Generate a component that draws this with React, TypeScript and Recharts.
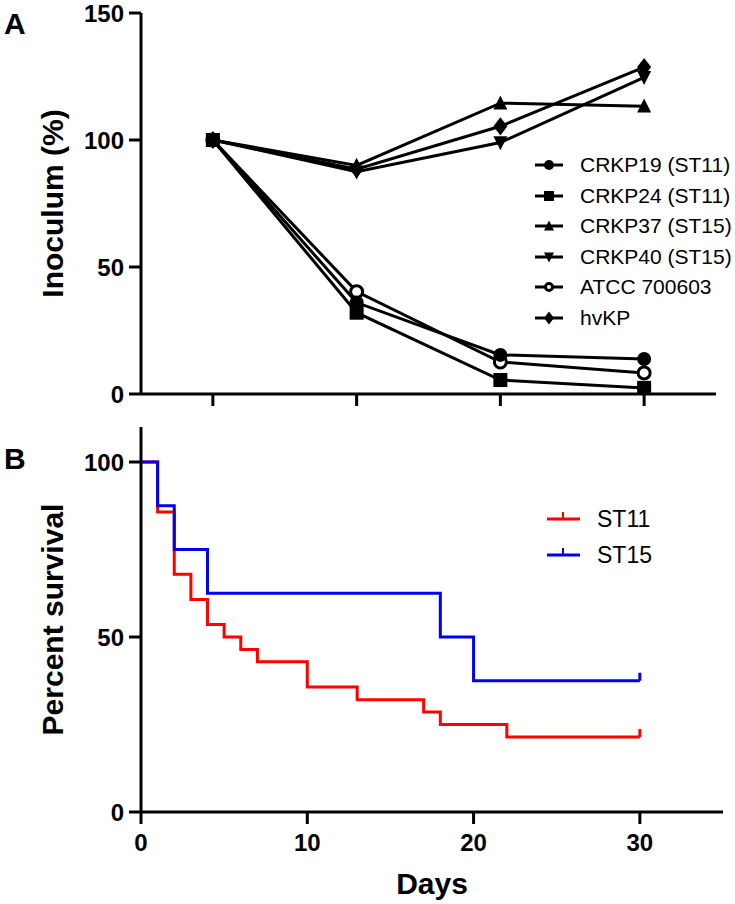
import { LineChart, Line, XAxis, YAxis, Legend } from 'recharts';

const FONT = "Arial, 'Liberation Sans', sans-serif";

// Panel A: inoculum (%) at four sampling points
const timepoints = [1, 2, 3, 4];
const crkp19 = [100, 36, 15.4, 13.8];
const crkp24 = [100, 32, 5.5, 2.4];
const crkp37 = [100, 90, 114.5, 113.3];
const crkp40 = [100, 87.5, 99, 124.7];
const atcc = [100, 40.3, 12.6, 8.3];
const hvkp = [100, 88.5, 105.4, 128.7];
const inoculumTicks = [0, 50, 100, 150];

// Panel B: Kaplan-Meier survival
const st11Days = [0, 1, 2, 3, 4, 5, 6, 7, 10, 13, 17, 18, 22, 30];
const st11Survival = [100, 85.7, 67.9, 60.7, 53.6, 50, 46.4, 42.9, 35.7, 32.1, 28.6, 25, 21.4, 21.4];
const st15Days = [0, 1, 2, 4, 18, 20, 30];
const st15Survival = [100, 87.5, 75, 62.5, 50, 37.5, 37.5];
const dayTicks = [0, 10, 20, 30];
const survivalTicks = [0, 50, 100];

const strains = [
  { key: 'crkp19', name: 'CRKP19 (ST11)', values: crkp19, shape: 'circle' },
  { key: 'crkp24', name: 'CRKP24 (ST11)', values: crkp24, shape: 'square' },
  { key: 'crkp37', name: 'CRKP37 (ST15)', values: crkp37, shape: 'triangle' },
  { key: 'crkp40', name: 'CRKP40 (ST15)', values: crkp40, shape: 'triangleDown' },
  { key: 'atcc', name: 'ATCC 700603', values: atcc, shape: 'open' },
  { key: 'hvkp', name: 'hvKP', values: hvkp, shape: 'diamond' },
];

const inoculumData = timepoints.map((t, i) => {
  const row: Record<string, number> = { t };
  strains.forEach((s) => (row[s.key] = s.values[i]));
  return row;
});

const st11Data = st11Days.map((d, i) => ({ day: d, surv: st11Survival[i] }));
const st15Data = st15Days.map((d, i) => ({ day: d, surv: st15Survival[i] }));

const groups = [
  { name: 'ST11', color: '#ff0000', data: st11Data },
  { name: 'ST15', color: '#0000f0', data: st15Data },
];

function Marker({ shape, cx, cy, s }: { shape: string; cx: number; cy: number; s: number }) {
  const h = s / 2;
  switch (shape) {
    case 'circle':
      return <circle cx={cx} cy={cy} r={h} fill="#000" />;
    case 'square':
      return <rect x={cx - h} y={cy - h} width={s} height={s} fill="#000" />;
    case 'triangle':
      return <polygon points={`${cx},${cy - s * 0.55} ${cx - h},${cy + s * 0.45} ${cx + h},${cy + s * 0.45}`} fill="#000" />;
    case 'triangleDown':
      return <polygon points={`${cx},${cy + s * 0.55} ${cx - h},${cy - s * 0.45} ${cx + h},${cy - s * 0.45}`} fill="#000" />;
    case 'open':
      return <circle cx={cx} cy={cy} r={h - 1.5} fill="#fff" stroke="#000" strokeWidth={3} />;
    case 'diamond':
      return <polygon points={`${cx},${cy - s * 0.65} ${cx + h},${cy} ${cx},${cy + s * 0.65} ${cx - h},${cy}`} fill="#000" />;
    default:
      return null;
  }
}

const EmptyTick = () => <g />;

const tickStyle = { fontSize: 24, fontWeight: 700, fill: '#000', fontFamily: FONT };
const titleStyle = { fontSize: 30, fontWeight: 700, fill: '#000', fontFamily: FONT, textAnchor: 'middle' as const };
const axisStroke = { stroke: '#000', strokeWidth: 3 };

const strainLegend = () => (
  <div style={{ fontFamily: FONT, fontSize: 21, color: '#000' }}>
    {strains.map((s) => (
      <div key={s.key} style={{ display: 'flex', alignItems: 'center', height: 30.5 }}>
        <svg width={50} height={30}>
          <line x1={5} x2={33} y1={15} y2={15} stroke="#000" strokeWidth={3} />
          <Marker shape={s.shape} cx={19} cy={15} s={10} />
        </svg>
        <span style={{ whiteSpace: 'nowrap' }}>{s.name}</span>
      </div>
    ))}
  </div>
);

const groupLegend = () => (
  <div style={{ fontFamily: FONT, fontSize: 23, color: '#000' }}>
    {groups.map((g) => (
      <div key={g.name} style={{ display: 'flex', alignItems: 'center', height: 36 }}>
        <svg width={57} height={36}>
          <line x1={7} x2={40} y1={18} y2={18} stroke={g.color} strokeWidth={3} />
          <line x1={23} x2={23} y1={18} y2={11} stroke={g.color} strokeWidth={2} />
        </svg>
        <span>{g.name}</span>
      </div>
    ))}
  </div>
);

// later series sit underneath: CRKP19 is drawn last, as in the figure
const drawOrder = [...strains].reverse();

export default function App() {
  return (
    <div style={{ position: 'absolute', left: 0, top: 0, width: 735, height: 904, background: '#fff', fontFamily: FONT }}>
      <div style={{ position: 'absolute', left: 0, top: 0 }}>
        <LineChart width={735} height={420} data={inoculumData} margin={{ top: 13, right: 19, bottom: 0, left: 0 }}>
          <XAxis
            dataKey="t"
            type="number"
            domain={[0.5, 4.5]}
            ticks={timepoints}
            tick={EmptyTick}
            tickSize={12}
            height={26}
            axisLine={axisStroke}
            tickLine={axisStroke}
          />
          <YAxis
            type="number"
            domain={[0, 150]}
            ticks={inoculumTicks}
            width={141}
            tickSize={12}
            tickMargin={5}
            tick={tickStyle}
            axisLine={axisStroke}
            tickLine={axisStroke}
            label={{ value: 'Inoculum (%)', angle: -90, position: 'insideLeft', offset: 52, style: titleStyle }}
          />
          {drawOrder.map((s) => (
            <Line
              key={s.key}
              dataKey={s.key}
              name={s.name}
              type="linear"
              stroke="#000"
              strokeWidth={3}
              isAnimationActive={false}
              activeDot={false}
              dot={(p: any) => (
                <Marker key={`${s.key}-${p.index}`} shape={s.shape} cx={p.cx} cy={p.cy} s={s.shape === 'open' ? 15 : 14} />
              )}
            />
          ))}
          <Legend
            layout="vertical"
            align="center"
            verticalAlign="middle"
            content={strainLegend}
            wrapperStyle={{ position: 'absolute', left: 530, top: 150, width: 205 }}
          />
        </LineChart>
      </div>

      <div style={{ position: 'absolute', left: 0, top: 420 }}>
        <LineChart width={735} height={484} margin={{ top: 7, right: 12, bottom: 0, left: 0 }}>
          <XAxis
            dataKey="day"
            type="number"
            domain={[0, 35]}
            ticks={dayTicks}
            tickSize={12}
            tickMargin={10}
            height={92}
            tick={tickStyle}
            axisLine={axisStroke}
            tickLine={axisStroke}
            allowDuplicatedCategory={false}
            label={{ value: 'Days', position: 'insideBottom', offset: 10, style: titleStyle }}
          />
          <YAxis
            type="number"
            domain={[0, 110]}
            ticks={survivalTicks}
            width={141}
            tickSize={12}
            tickMargin={5}
            tick={tickStyle}
            axisLine={axisStroke}
            tickLine={axisStroke}
            label={{ value: 'Percent survival', angle: -90, position: 'insideLeft', offset: 52, style: titleStyle }}
          />
          {groups.map((g) => (
            <Line
              key={g.name}
              data={g.data}
              dataKey="surv"
              name={g.name}
              type="stepAfter"
              stroke={g.color}
              strokeWidth={3}
              isAnimationActive={false}
              activeDot={false}
              dot={(p: any) =>
                p.index === g.data.length - 1 ? (
                  <line key={`${g.name}-${p.index}`} x1={p.cx} x2={p.cx} y1={p.cy} y2={p.cy - 8} stroke={g.color} strokeWidth={3} />
                ) : (
                  <g key={`${g.name}-${p.index}`} />
                )
              }
            />
          ))}
          <Legend
            layout="vertical"
            align="center"
            verticalAlign="middle"
            content={groupLegend}
            wrapperStyle={{ position: 'absolute', left: 540, top: 81, width: 150 }}
          />
        </LineChart>
      </div>

      <div style={{ position: 'absolute', left: 4, top: 9, fontSize: 30, lineHeight: '30px', fontWeight: 700, color: '#000' }}>A</div>
      <div style={{ position: 'absolute', left: 4, top: 444, fontSize: 30, lineHeight: '30px', fontWeight: 700, color: '#000' }}>B</div>
    </div>
  );
}
